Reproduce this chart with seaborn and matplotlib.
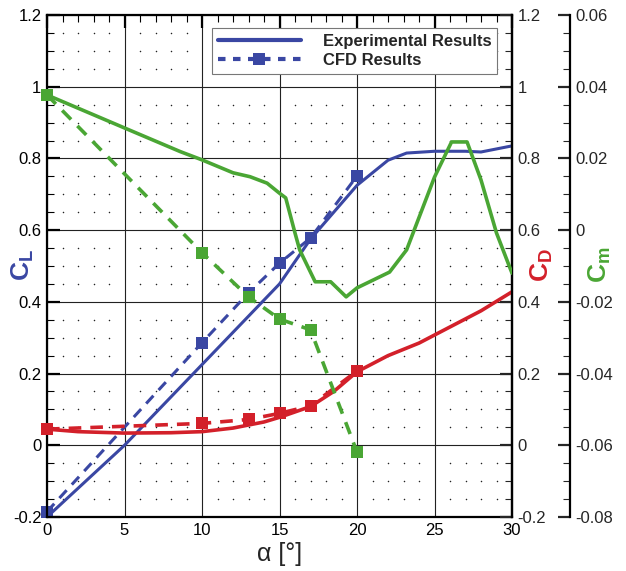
import numpy as np
import matplotlib
matplotlib.use('Agg')
import matplotlib.pyplot as plt
from matplotlib.lines import Line2D
from matplotlib.ticker import MultipleLocator, FuncFormatter
import seaborn as sns

# experimental results
alpha_cl_exp = [0, 5, 10, 15, 17, 20, 22, 23.2, 25, 27, 28, 30]
cl_exp = [-0.2, 0.0, 0.225, 0.45, 0.575, 0.725, 0.795, 0.815, 0.82, 0.82, 0.818, 0.835]

alpha_cd_exp = [0, 2, 5, 8, 10, 12, 14, 15, 17, 18.5, 20, 22, 24, 26, 28, 30]
cd_exp = [0.045, 0.038, 0.034, 0.035, 0.038, 0.048, 0.065, 0.078, 0.108, 0.15, 0.205,
          0.25, 0.285, 0.33, 0.375, 0.428]

alpha_cm_exp = [0, 5, 8.6, 10, 12, 13.1, 14.2, 15, 15.4, 16, 16.3, 17.3, 18.3, 19.3, 20,
                22.1, 23.2, 25, 26.1, 27.1, 28, 29, 30]
cm_exp = [0.0377, 0.0285, 0.0219, 0.0196, 0.016, 0.0149, 0.0131, 0.0103, 0.009, -0.0008,
          -0.0055, -0.0144, -0.0144, -0.0186, -0.0161, -0.0117, -0.0055, 0.0148, 0.0246,
          0.0246, 0.014, -0.0008, -0.012]

# CFD results
alpha_cfd = [0, 10, 13, 15, 17, 20]
cl_cfd = [-0.185, 0.286, 0.425, 0.508, 0.578, 0.751]
cd_cfd = [0.045, 0.061, 0.072, 0.089, 0.11, 0.207]
cm_cfd = [0.0377, -0.0063, -0.0186, -0.0248, -0.0278, -0.0619]

blue = '#3a47a3'
red = '#d3202a'
green = '#4aa634'

sns.set_style('white')
plt.rcParams['font.family'] = ['Liberation Sans', 'DejaVu Sans']
plt.rcParams['mathtext.fontset'] = 'custom'
plt.rcParams['mathtext.rm'] = 'Liberation Sans'
plt.rcParams['mathtext.bf'] = 'Liberation Sans:bold'

fig = plt.figure(figsize=(6.26, 5.71), dpi=100)
ax = fig.add_axes([0.0751, 0.0946, 0.7428, 0.8791])
ax2 = ax.twinx()
ax3 = ax.twinx()

dash = (0, (3.5, 2.5))
lw = 2.2

# CL
sns.lineplot(x=alpha_cl_exp, y=cl_exp, ax=ax, color=blue, linewidth=lw)
sns.lineplot(x=alpha_cfd, y=cl_cfd, ax=ax, color=blue, linewidth=lw, linestyle=dash,
             marker='s', markersize=8, markeredgewidth=0, clip_on=False)
# CD
sns.lineplot(x=alpha_cd_exp, y=cd_exp, ax=ax2, color=red, linewidth=2.6)
sns.lineplot(x=alpha_cfd, y=cd_cfd, ax=ax2, color=red, linewidth=2.6, linestyle=dash,
             marker='s', markersize=8, markeredgewidth=0, clip_on=False)
# Cm
sns.lineplot(x=alpha_cm_exp, y=cm_exp, ax=ax3, color=green, linewidth=2.6)
sns.lineplot(x=alpha_cfd, y=cm_cfd, ax=ax3, color=green, linewidth=2.6, linestyle=dash,
             marker='s', markersize=8, markeredgewidth=0, clip_on=False)

ax.set_xlim(0, 30)
ax.set_ylim(-0.2, 1.2)
ax2.set_ylim(-0.2, 1.2)
ax3.set_ylim(-0.08, 0.06)

fmt = FuncFormatter(lambda v, p: '{:g}'.format(round(v, 4)))
ax.xaxis.set_major_locator(MultipleLocator(5))
ax.xaxis.set_minor_locator(MultipleLocator(1))
for a in (ax, ax2):
    a.yaxis.set_major_locator(MultipleLocator(0.2))
    a.yaxis.set_minor_locator(MultipleLocator(0.05))
    a.yaxis.set_major_formatter(fmt)
ax3.yaxis.set_major_locator(MultipleLocator(0.02))
ax3.yaxis.set_minor_locator(MultipleLocator(0.005))
ax3.yaxis.set_major_formatter(fmt)
ax.xaxis.set_major_formatter(fmt)

# grid: solid majors, dots at minor intersections
ax.grid(which='major', color='#222222', linewidth=0.8)
xm = [v for v in np.arange(1, 30) if v % 5]
ym = [v for v in np.arange(-0.15, 1.2, 0.05) if abs(v / 0.2 - round(v / 0.2)) > 0.01]
gx, gy = np.meshgrid(xm, ym)
ax.scatter(gx.ravel(), gy.ravel(), s=1.2, color='#222222', linewidths=0, zorder=0.5)
ax.set_axisbelow(True)

ts = 12
ax.tick_params(axis='both', which='both', direction='in', top=True, right=False,
               labelsize=ts, colors='black', pad=4)
ax.tick_params(which='major', length=9, width=1.6)
ax.tick_params(which='minor', length=5, width=0.8)
for a in (ax2, ax3):
    a.tick_params(axis='y', which='both', direction='in', labelsize=ts, pad=4)
    a.tick_params(axis='y', which='major', length=9, width=1.6)
    a.tick_params(axis='y', which='minor', length=5, width=0.8)

ax3.spines['right'].set_position(('axes', 1.1247))
for a in (ax, ax2, ax3):
    for s in a.spines.values():
        s.set_linewidth(1.6)
        s.set_color('black')
for s in ('left', 'top', 'bottom'):
    ax3.spines[s].set_visible(False)
    ax2.spines[s].set_visible(False)
for a in (ax, ax2, ax3):
    a.set_xlabel('')
    a.set_ylabel('')

# axis titles
fig.text(0.036, 0.536, r'$\mathbf{C}_\mathbf{L}$', color=blue, fontsize=19,
         rotation=90, ha='center', va='center')
fig.text(0.866, 0.536, r'$\mathbf{C}_\mathbf{D}$', color=red, fontsize=19,
         rotation=90, ha='center', va='center')
fig.text(0.958, 0.536, r'$\mathbf{C}_\mathbf{m}$', color=green, fontsize=19,
         rotation=90, ha='center', va='center')
fig.text(0.447, 0.03, 'α [°]', fontsize=18, ha='center', va='center')

handles = [
    Line2D([], [], color=blue, linewidth=3),
    Line2D([], [], color=blue, linewidth=3, linestyle=(0, (1.8, 1.8)), marker='s',
           markersize=8, markeredgewidth=0, markevery=[1]),
]
leg = ax3.legend(handles, ['Experimental Results', 'CFD Results'], loc='upper right',
                 bbox_to_anchor=(0.968, 0.974), borderaxespad=0, frameon=True,
                 fancybox=False, handlelength=5.0, borderpad=0.35,
                 labelspacing=0.25, handletextpad=1.3, prop={'weight': 'bold', 'size': 12})
leg.get_frame().set_edgecolor('#777777')
leg.get_frame().set_linewidth(0.8)
leg.get_frame().set_alpha(1)

fig.savefig('out.png', dpi=100)
